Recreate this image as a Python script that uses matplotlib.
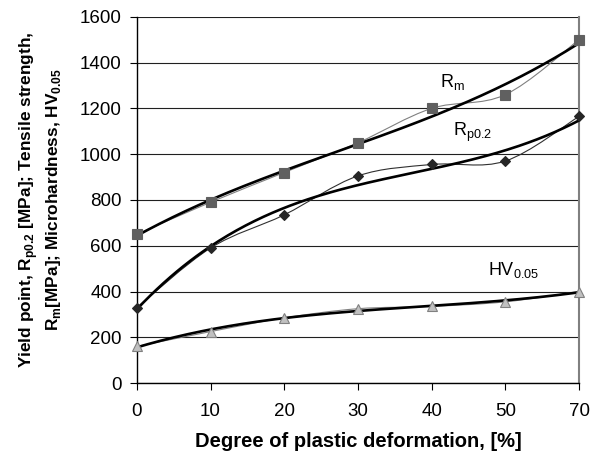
import numpy as np
import matplotlib
matplotlib.use("Agg")
import matplotlib.pyplot as plt
from matplotlib.path import Path
from matplotlib.patches import PathPatch

plt.rcParams['font.family'] = ['Liberation Sans', 'DejaVu Sans']
plt.rcParams['mathtext.fontset'] = 'custom'
plt.rcParams['mathtext.rm'] = 'Liberation Sans'
plt.rcParams['mathtext.bf'] = 'Liberation Sans:bold'

# data
deformation = ["0", "10", "20", "30", "40", "50", "70"]
rm = [650, 790, 920, 1050, 1200, 1260, 1500]
rp02 = [330, 590, 735, 905, 955, 970, 1165]
hv005 = [160, 225, 285, 325, 335, 355, 400]


def smooth_path(xs, ys):
    # Excel style smoothed line (Catmull-Rom as cubic Bezier)
    pts = np.column_stack([xs, ys]).astype(float)
    verts = [pts[0]]
    codes = [Path.MOVETO]
    n = len(pts)
    for i in range(n - 1):
        p0 = pts[i - 1] if i > 0 else pts[i]
        p1 = pts[i]
        p2 = pts[i + 1]
        p3 = pts[i + 2] if i + 2 < n else pts[i + 1]
        c1 = p1 + (p2 - p0) / 6.0
        c2 = p2 - (p3 - p1) / 6.0
        verts += [c1, c2, p2]
        codes += [Path.CURVE4] * 3
    return Path(verts, codes)


fig = plt.figure(figsize=(6, 4.55), dpi=100)
ax = fig.add_axes([0.228, 0.158, 0.737, 0.805])

idx = np.arange(len(deformation))
xfine = np.linspace(0, len(deformation) - 1, 200)

series = [
    (rm, 's', '#606060', '#606060', 6.5),
    (rp02, 'D', '#262626', '#262626', 5.5),
    (hv005, '^', '#c0c0c0', '#808080', 7.5),
]

for vals, mk, fc, ec, ms in series:
    thin_col = '#808080' if mk != 'D' else '#303030'
    ax.add_patch(PathPatch(smooth_path(idx, vals), facecolor='none',
                           edgecolor=thin_col, lw=0.8, zorder=3))
    # polynomial trend line like Excel (x = 1..n)
    coef = np.polyfit(idx + 1, vals, 3)
    trend = np.polyval(coef, xfine + 1)
    ax.plot(xfine, trend, color='black', lw=1.9, zorder=4)
    ax.plot(idx, vals, linestyle='none', marker=mk, markersize=ms,
            markerfacecolor=fc, markeredgecolor=ec, markeredgewidth=0.8,
            zorder=5, clip_on=False)

ax.set_xlim(0, len(deformation) - 1)
ax.set_ylim(0, 1600)
ax.set_xticks(idx)
ax.set_xticklabels(deformation)
ax.set_yticks(np.arange(0, 1601, 200))
ax.yaxis.grid(True, color='#202020', lw=0.8)
ax.set_axisbelow(True)
ax.tick_params(labelsize=13.5, direction='out', length=5, width=0.8,
               color='black')
ax.tick_params(axis='x', pad=9)
ax.tick_params(axis='y', pad=6)
ax.spines['top'].set_visible(False)
ax.spines['right'].set_color('#808080')
ax.spines['right'].set_linewidth(1.5)
ax.spines['left'].set_linewidth(1.0)
ax.spines['bottom'].set_linewidth(1.0)

ax.set_xlabel("Degree of plastic deformation, [%]", fontsize=14.5,
              fontweight='bold', labelpad=9)
ax.set_ylabel("Yield point, R$_{\\mathbf{p0.2}}$ [MPa]; Tensile strength,\n"
              "R$_{\\mathbf{m}}$[MPa]; Microhardness, HV$_{\\mathbf{0.05}}$",
              fontsize=12.4, fontweight='bold', labelpad=12, linespacing=1.3)

ax.text(4.11, 1316, "R$_{\\mathregular{m}}$", fontsize=13, va='center')
ax.text(4.29, 1097, "R$_{\\mathregular{p0.2}}$", fontsize=13, va='center')
ax.text(4.76, 494, "HV$_{\\mathregular{0.05}}$", fontsize=13, va='center')

fig.savefig("out.png", dpi=100)
